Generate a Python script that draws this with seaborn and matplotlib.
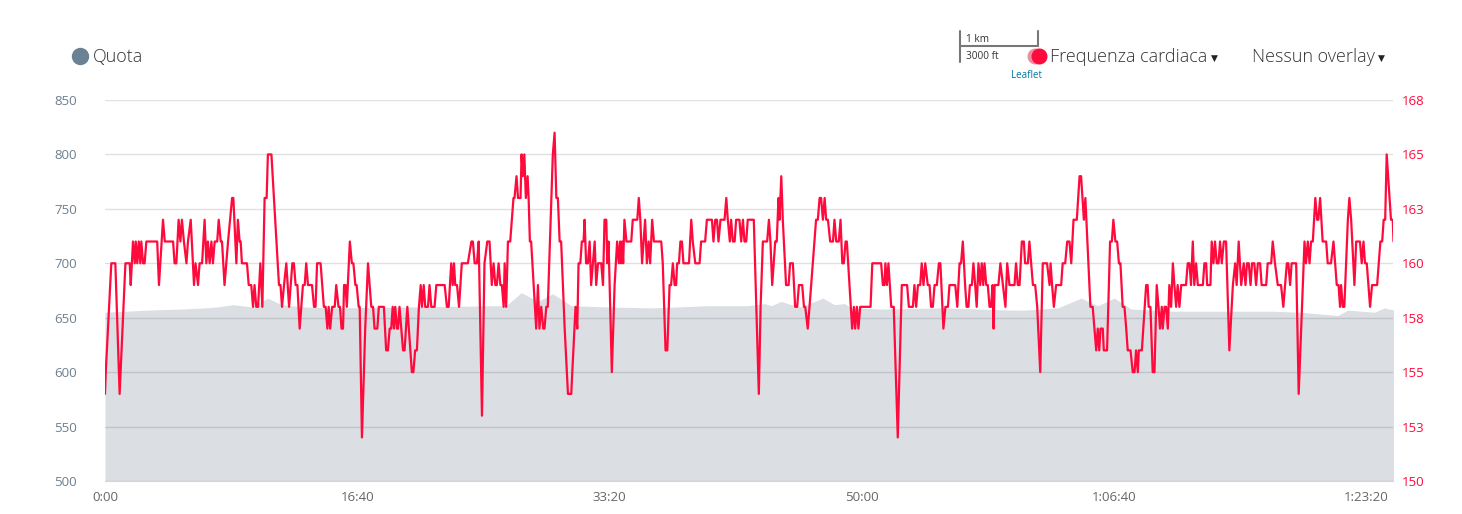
import matplotlib.pyplot as plt
import seaborn as sns
from matplotlib.lines import Line2D

# elevation profile (m)
elev_seconds = [0, 171, 303, 395, 448, 508, 580, 646, 699, 778, 884, 1268, 1532,
                1591, 1651, 1717, 1776, 1849, 1981, 2166, 2391, 2550, 2616, 2642,
                2682, 2721, 2761, 2847, 2893, 2933, 2959, 3078, 3329, 3594, 3646,
                3779, 3871, 3937, 4003, 4069, 4228, 4624, 4744, 4889, 4929, 5034,
                5074, 5110]
elev_m = [655, 657, 658, 659, 660, 662, 660, 668, 662, 660, 659, 660, 661,
          661, 673, 665, 672, 661, 660, 659, 661, 661, 663, 661,
          665, 662, 660, 668, 662, 663, 659, 658, 659, 657, 657,
          659, 668, 661, 668, 658, 656, 656, 655, 652, 657, 655,
          659, 657]

# heart rate (bpm), breakpoints of the red line
hr_seconds = [
    0, 3, 25, 41, 58, 81, 98, 102, 111, 118, 122, 128, 134, 140, 144, 151, 157, 164, 207, 214,
    230, 237, 270, 276, 283, 292, 299, 305, 313, 323, 329, 340, 353, 359, 369, 375, 385, 395, 402, 408,
    415, 422, 428, 435, 445, 451, 459, 464, 474, 488, 504,
    509, 521, 527, 534, 538, 543, 563, 570, 580, 587, 593, 600, 607, 616, 624, 633, 641, 646, 660, 690,
    696, 702, 710, 719, 730, 743, 749, 756, 763, 772, 785, 792, 798, 805, 821, 829, 835, 841, 855, 868,
    875, 882, 887, 893, 901, 911, 917, 926, 932, 938, 944, 948, 954, 959, 971, 979, 985, 993, 998, 1006,
    1010, 1019,
    1032, 1043, 1056, 1063, 1069, 1080, 1086, 1106, 1115, 1122, 1129, 1135, 1141, 1146, 1151, 1158, 1162,
    1168, 1182, 1188, 1199, 1217, 1223, 1230, 1237, 1245, 1252, 1257, 1264, 1270, 1281, 1287, 1294, 1307,
    1314, 1347, 1356, 1363, 1373, 1379, 1384, 1389, 1396, 1404, 1415, 1439, 1453, 1459, 1466, 1475, 1482,
    1495, 1505, 1516,
    1525, 1534, 1541, 1548, 1554, 1561, 1568, 1574, 1581, 1585, 1591, 1598, 1607, 1620, 1624, 1632, 1638,
    1648, 1652, 1657, 1663, 1669, 1676, 1680, 1685, 1690, 1710, 1717, 1723, 1730, 1738, 1743, 1750, 1756,
    1776, 1783, 1790, 1796, 1803, 1809, 1823, 1836, 1849, 1866, 1873, 1878, 1885, 1891, 1898, 1902, 1908,
    1915, 1922, 1928, 1935, 1942, 1948, 1955, 1968, 1975, 1981, 1988, 1992, 1997, 2010, 2021, 2031, 2038,
    2043, 2047, 2051, 2055, 2060, 2068, 2087, 2093, 2111, 2117, 2123, 2130, 2142, 2149, 2156, 2162, 2170,
    2177, 2206, 2212, 2223, 2230, 2239, 2245, 2252, 2259, 2265, 2269, 2276, 2282, 2288, 2294, 2316, 2325,
    2331, 2341, 2358, 2364, 2380, 2387, 2407, 2413, 2420, 2427, 2433, 2441, 2457, 2464, 2470, 2478, 2483,
    2490, 2497, 2503, 2516, 2523, 2530, 2536, 2543, 2549,
    2556, 2573, 2593, 2600, 2609, 2626, 2633, 2639, 2646, 2658, 2664, 2671, 2675, 2682, 2688, 2701, 2711,
    2717, 2728, 2737, 2745, 2752, 2765, 2772, 2777, 2787, 2794, 2820, 2827, 2834, 2840, 2847, 2854, 2860,
    2867, 2876, 2887, 2893, 2900, 2910, 2917, 2924, 2930, 2937, 2942, 2963, 2970, 2975, 2982, 2988, 2995,
    3036, 3043, 3078,
    3085, 3091, 3095, 3101, 3107, 3118, 3128, 3144, 3160, 3181, 3188, 3204, 3210, 3217, 3224, 3233, 3239,
    3246, 3253, 3263, 3270, 3276, 3283, 3290, 3299, 3307, 3313, 3325, 3333, 3343, 3349, 3372, 3380, 3389,
    3395, 3402, 3411, 3417, 3424, 3430, 3438, 3444, 3451, 3457, 3464, 3471, 3477, 3483, 3488, 3495, 3501,
    3508, 3514, 3520, 3524, 3528, 3543, 3551, 3561, 3571, 3578,
    3587, 3607, 3613, 3620, 3627, 3636, 3644, 3649, 3660, 3666, 3680, 3689, 3697, 3709, 3719, 3736, 3746,
    3750, 3756, 3763, 3772, 3792, 3798, 3808, 3816, 3825, 3832, 3841, 3854, 3865, 3871, 3882, 3888, 3908,
    3917, 3931, 3937, 3943, 3948, 3957, 3961, 3974, 3986, 3993, 3999, 4007, 4014, 4021, 4027, 4036, 4043,
    4050, 4056, 4067, 4076, 4083, 4089, 4096,
    4100, 4112, 4129, 4135, 4139, 4146, 4155, 4162, 4171, 4178, 4184, 4191, 4195, 4202, 4208, 4215, 4221,
    4228, 4235, 4241, 4248, 4254, 4261, 4268, 4287, 4294, 4301, 4307, 4314, 4320, 4327, 4334, 4354, 4360,
    4367, 4371, 4384, 4389, 4396, 4402, 4409, 4416, 4422, 4429, 4437, 4446, 4459, 4473, 4482, 4488, 4496,
    4506, 4516, 4523, 4529, 4536, 4543, 4549, 4558, 4565, 4572, 4581, 4587, 4605, 4611,
    4625, 4631, 4640, 4651, 4664, 4673, 4687, 4693, 4700, 4706, 4724, 4734, 4744, 4757, 4763, 4770, 4777,
    4783, 4790, 4800, 4807, 4812, 4819, 4829, 4836, 4843, 4849, 4862, 4872, 4885, 4892, 4898, 4902, 4909,
    4915, 4929, 4935, 4942, 4955, 4962, 4977, 4984, 4991, 4997, 5004, 5017, 5025, 5045, 5058, 5065, 5071,
    5077, 5083, 5100, 5107, 5110,
]
hr_bpm = [
    154, 155, 160, 160, 154, 160, 160, 159, 161, 160, 161, 160, 161, 160, 161, 160, 160, 161, 161, 159,
    162, 161, 161, 160, 160, 162, 161, 162, 161, 160, 161, 162, 159, 160, 159, 160, 160, 162, 160, 161,
    160, 161, 160, 161, 161, 162, 161, 161, 159, 161, 163,
    163, 160, 162, 161, 161, 160, 160, 159, 159, 158, 159, 158, 158, 160, 158, 163, 163, 165, 165, 159,
    159, 158, 159, 160, 158, 160, 160, 159, 159, 157, 159, 159, 160, 159, 159, 158, 158, 160, 160, 158,
    158, 157, 158, 157, 158, 158, 159, 158, 158, 157, 157, 159, 159, 158, 161, 160, 160, 159, 159, 158,
    158, 152,
    157, 160, 158, 158, 157, 157, 158, 158, 156, 156, 157, 157, 158, 157, 158, 157, 157,
    158, 156, 156, 158, 155, 155, 156, 156, 158, 159, 158, 159, 158, 158, 159, 158, 158,
    159, 159, 158, 158, 160, 159, 160, 159, 159, 158, 160, 160, 161, 161, 160, 160, 161,
    153, 160, 161,
    161, 159, 160, 159, 159, 160, 159, 159, 158, 160, 158, 161, 161, 163, 163, 164, 163,
    163, 165, 164, 165, 163, 164, 163, 161, 161, 157, 159, 157, 158, 157, 157, 158, 158,
    165, 166, 163, 163, 161, 161, 157, 154, 154, 158, 157, 160, 160, 161, 161, 162, 160,
    160, 161, 159, 160, 161, 159, 160, 160, 159, 162, 162, 160, 161, 155, 159, 161, 160,
    161, 160, 161, 160, 162, 161, 161, 162, 162, 163, 162, 160, 162, 160, 161, 160, 162,
    161, 161, 160, 156, 156, 159, 159, 160, 159, 159, 160, 160, 161, 161, 160, 160, 162,
    161, 160, 160, 161, 161, 162, 162, 161, 162, 162, 161, 162, 162, 163, 162, 161, 162,
    161, 161, 162, 162, 161, 162, 161, 161, 162,
    162, 162, 154, 158, 161, 161, 162, 161, 159, 161, 161, 163, 162, 164, 162, 159, 159,
    160, 160, 158, 158, 159, 159, 158, 158, 157, 158, 162, 162, 163, 163, 162, 163, 162,
    162, 161, 161, 162, 161, 161, 162, 160, 160, 161, 161, 157, 158, 157, 158, 157, 158,
    158, 160, 160,
    159, 159, 160, 159, 160, 158, 158, 152, 159, 159, 158, 158, 159, 158, 159, 159, 160,
    159, 160, 159, 159, 158, 158, 159, 159, 160, 160, 157, 158, 158, 159, 159, 158, 160,
    160, 161, 159, 158, 158, 159, 159, 160, 159, 158, 160, 159, 160, 159, 160, 159, 159,
    158, 158, 159, 157, 159, 159, 160, 159, 158, 160,
    159, 159, 160, 159, 159, 161, 161, 160, 160, 161, 159, 159, 158, 155, 160, 160, 159,
    160, 159, 158, 159, 159, 160, 160, 161, 161, 160, 162, 162, 164, 164, 162, 163, 158,
    158, 156, 157, 156, 157, 157, 156, 156, 161, 161, 162, 161, 161, 160, 160, 158, 158,
    157, 156, 156, 155, 155, 156, 155,
    156, 156, 159, 159, 158, 158, 155, 155, 159, 158, 157, 158, 157, 158, 158, 157, 159,
    158, 160, 159, 158, 159, 158, 159, 159, 160, 160, 159, 161, 159, 160, 159, 159, 160,
    160, 159, 159, 161, 160, 161, 160, 160, 161, 160, 161, 161, 156, 159, 160, 159, 161,
    159, 160, 159, 160, 160, 159, 160, 160, 159, 160, 160, 159, 159, 160,
    160, 161, 160, 159, 159, 158, 160, 160, 159, 160, 160, 154, 157, 161, 160, 161, 160,
    161, 161, 163, 162, 162, 163, 161, 161, 161, 160, 160, 161, 159, 159, 158, 159, 158,
    158, 162, 163, 162, 159, 161, 161, 160, 161, 160, 160, 158, 159, 159, 161, 161, 162,
    162, 165, 162, 162, 161,
]

quota_ticks = [500, 550, 600, 650, 700, 750, 800, 850]
hr_ticks = [150, 152.5, 155, 157.5, 160, 162.5, 165, 167.5]
hr_tick_labels = ['150', '153', '155', '158', '160', '163', '165', '168']
time_ticks = [0, 1000, 2000, 3000, 4000, 5000]
time_tick_labels = ['0:00', '16:40', '33:20', '50:00', '1:06:40', '1:23:20']

W, H = 1462, 514
RED = '#ff0a3c'

sns.set_style('white')
plt.rcParams['font.family'] = ['Open Sans', 'DejaVu Sans']

fig = plt.figure(figsize=(W / 100, H / 100), dpi=100)
ax = fig.add_axes([105 / W, 33 / H, 1288 / W, 381 / H])

# elevation area
ax.fill_between(elev_seconds, 500, elev_m, color='#dbdfe3', linewidth=0, zorder=1)
ax.set_xlim(0, 5108)
ax.set_ylim(500, 850)
ax.set_yticks(quota_ticks)
ax.set_axisbelow('line')
ax.grid(axis='y', color='#000000', alpha=0.12, linewidth=1)
ax.grid(axis='x', visible=False)
for s in ['top', 'left', 'right']:
    ax.spines[s].set_visible(False)
ax.spines['bottom'].set_color('#ccd6eb')
ax.tick_params(axis='y', length=0, pad=20, labelsize=9.5, labelcolor='#6e7f8e')
ax.set_xticks(time_ticks)
ax.set_xticklabels(time_tick_labels)
ax.tick_params(axis='x', length=0, pad=7, labelsize=9.5, labelcolor='#666666')

# heart rate line
ax2 = ax.twinx()
sns.lineplot(x=hr_seconds, y=hr_bpm, ax=ax2, color=RED, linewidth=1.6,
             estimator=None, sort=False)
ax2.set_xlim(0, 5108)
ax2.set_ylim(150, 167.5)
ax2.set_yticks(hr_ticks)
ax2.set_yticklabels(hr_tick_labels)
ax2.set_ylabel('')
ax2.grid(False)
ax2.tick_params(axis='y', length=0, pad=6, labelsize=9.5, labelcolor=RED)
for s in ax2.spines.values():
    s.set_visible(False)


def fx(px):
    return px / W


def fy(py):
    return 1 - py / H


def dot(px, py, color, size=11.5):
    fig.add_artist(Line2D([fx(px)], [fy(py)], marker='o', markersize=size,
                          color=color, linestyle='none', transform=fig.transFigure))


# header legend
dot(80, 56, '#6a8293')
fig.text(fx(93), fy(57), 'Quota', fontsize=13, color='#333333', va='center', fontweight='light')

# leaflet scale widget
for xs, ys in [([960, 960], [31, 62]), ([960, 1038], [46, 46]), ([1038, 1038], [31, 46])]:
    fig.add_artist(Line2D([fx(x) for x in xs], [fy(y) for y in ys], color='#777777',
                          linewidth=1.5, transform=fig.transFigure))
fig.text(fx(966), fy(39), '1 km', fontsize=7.2, color='#333333', va='center')
fig.text(fx(966), fy(56), '3000 ft', fontsize=7.2, color='#333333', va='center')
fig.text(fx(1027), fy(76), 'Leaflet', fontsize=7, color='#0078a8', ha='center', va='center')

dot(1035, 56, '#e9909f', size=10.5)
dot(1039, 56, RED, size=10.5)
fig.text(fx(1050), fy(57), 'Frequenza cardiaca', fontsize=13, color='#333333', va='center',
         fontweight='light')
fig.text(fx(1211), fy(58), '▼', fontsize=6.5, color='#222222', va='center',
         family=['DejaVu Sans'])
fig.text(fx(1252), fy(57), 'Nessun overlay', fontsize=13, color='#333333', va='center',
         fontweight='light')
fig.text(fx(1378), fy(58), '▼', fontsize=6.5, color='#222222', va='center',
         family=['DejaVu Sans'])

fig.savefig('out.png', dpi=100)
